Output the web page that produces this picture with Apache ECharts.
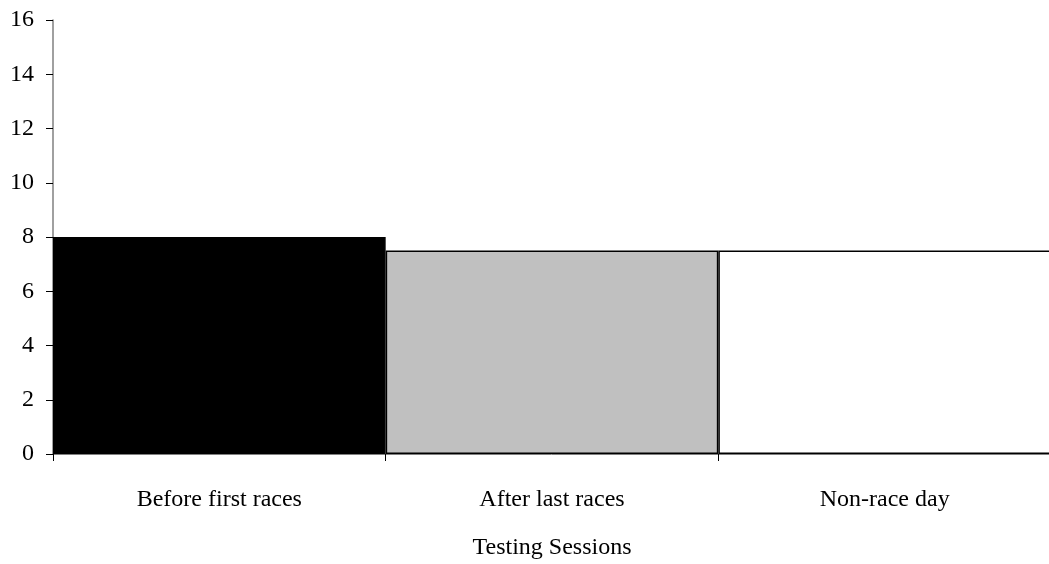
<!DOCTYPE html>
<html>
<head>
<meta charset="utf-8">
<script src="https://cdn.jsdelivr.net/npm/echarts@6/dist/echarts.min.js"></script>
<style>
html,body{margin:0;padding:0;background:#fff;}
#chart{width:1049px;height:564px;}
</style>
</head>
<body>
<div id="chart"></div>
<script>
// Testing sessions and their values
const categories = ['Before first races', 'After last races', 'Non-race day'];
const sessionValues = [8, 7.5, 7.5];
const barColors = ['#000000', '#c0c0c0', '#ffffff'];
const yTicks = [0, 2, 4, 6, 8, 10, 12, 14, 16];

const font = '"Liberation Serif", "Times New Roman", serif';

const chart = echarts.init(document.getElementById('chart'));
chart.setOption({
  animation: false,
  backgroundColor: '#ffffff',
  grid: { left: 53, top: 20, width: 998, height: 434, containLabel: false, outerBoundsMode: 'none' },
  xAxis: {
    type: 'category',
    data: categories,
    name: 'Testing Sessions',
    nameLocation: 'middle',
    nameGap: 82,
    nameTextStyle: { fontFamily: font, fontSize: 24, color: '#000' },
    axisLine: { lineStyle: { color: '#808080', width: 1 } },
    axisTick: { show: true, length: 7, lineStyle: { color: '#000' } },
    axisLabel: { fontFamily: font, fontSize: 24, color: '#000', margin: 34 },
    splitLine: { show: false }
  },
  yAxis: {
    type: 'value',
    min: yTicks[0],
    max: yTicks[yTicks.length - 1],
    interval: 2,
    axisLine: { show: true, lineStyle: { color: '#808080', width: 1.5 } },
    axisTick: { show: true, length: 7, lineStyle: { color: '#000' } },
    axisLabel: { fontFamily: font, fontSize: 24, color: '#000', margin: 19 },
    splitLine: { show: false }
  },
  series: [{
    type: 'bar',
    barCategoryGap: 0,
    data: sessionValues.map((v, i) => ({
      value: v,
      itemStyle: { color: barColors[i], borderColor: '#000', borderWidth: 1.5 }
    }))
  }]
});
</script>
</body>
</html>
